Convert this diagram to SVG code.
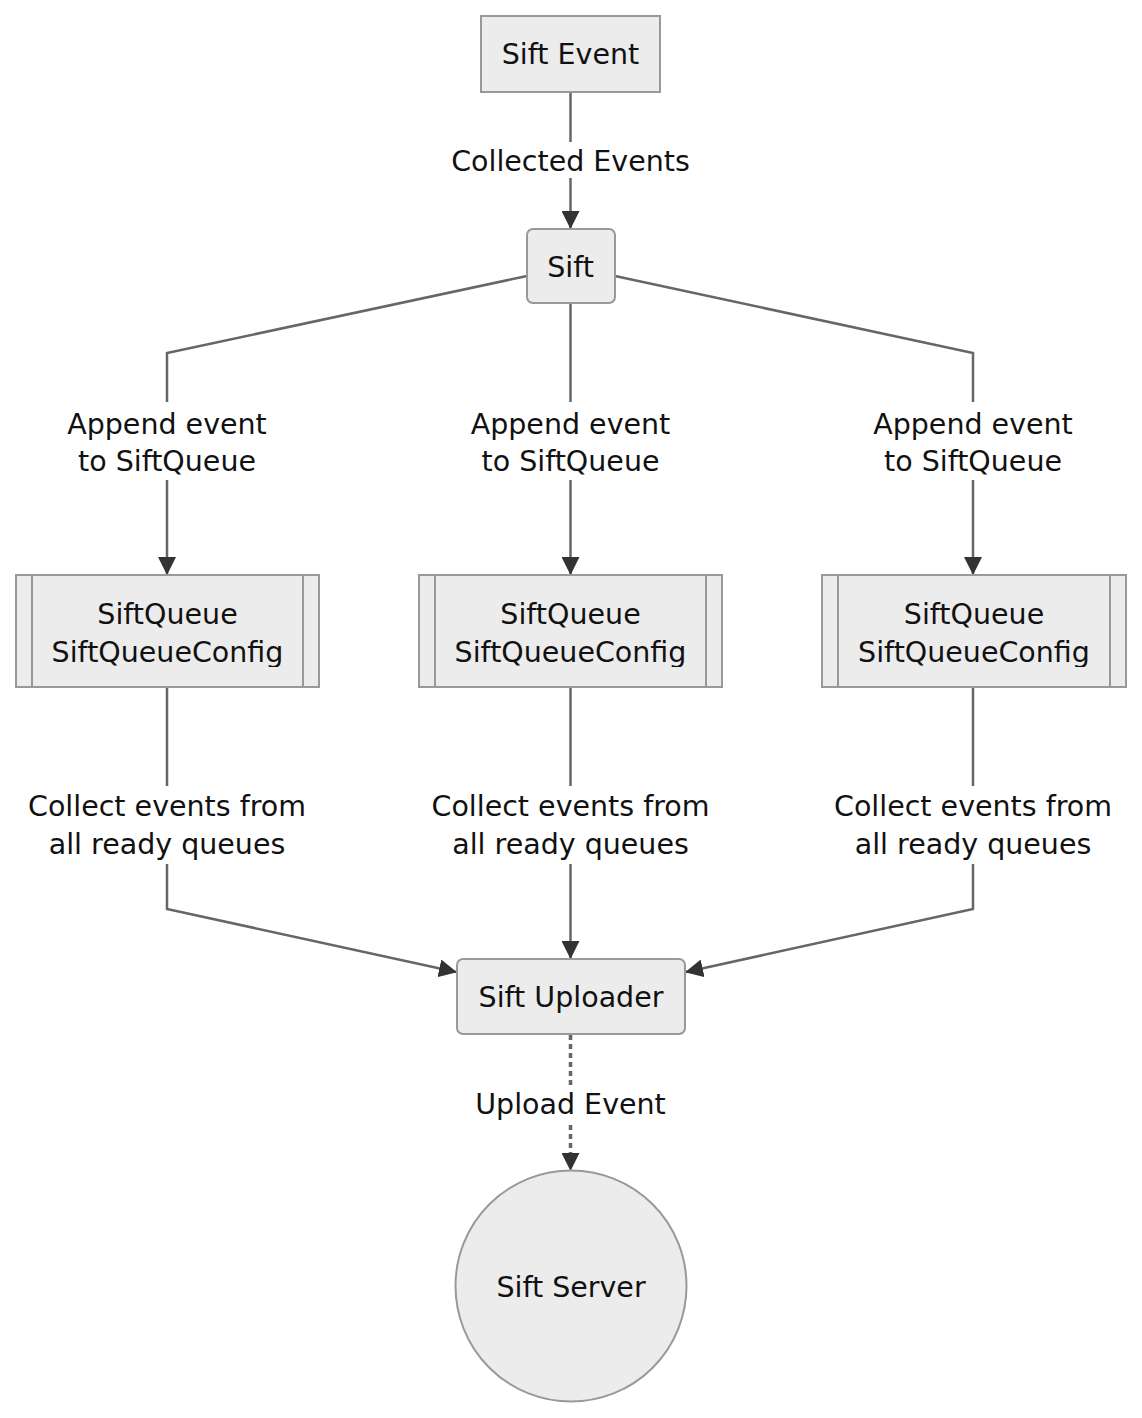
<svg xmlns="http://www.w3.org/2000/svg" width="1142" height="1418" viewBox="0 0 1142 1418">
<style>
.node{fill:#ECECEC;stroke:#999999;stroke-width:2}
.edge{fill:none;stroke:#666666;stroke-width:2.5}
.dot{fill:none;stroke:#666666;stroke-width:3.5;stroke-dasharray:5 4}
.t{font-family:"DejaVu Sans",Verdana,sans-serif;font-size:28.5px;fill:#111111;text-anchor:middle}
.bg{fill:#FFFFFF}
</style>
<defs>
<marker id="arr" markerUnits="userSpaceOnUse" markerWidth="18" markerHeight="18" viewBox="0 0 18 18" refX="17" refY="9" orient="auto">
<path d="M0,0 L18,9 L0,18 Z" fill="#333333"/>
</marker>
<clipPath id="qc"><rect x="0" y="575" width="1142" height="92"/></clipPath>
</defs>
<rect width="1142" height="1418" fill="#FFFFFF"/>
<g id="connectors">
<path class="edge" d="M570.5,92 L570.5,228" marker-end="url(#arr)"/>
<path class="edge" d="M527,276 L167,353 L167,574" marker-end="url(#arr)"/>
<path class="edge" d="M570.5,303 L570.5,574" marker-end="url(#arr)"/>
<path class="edge" d="M615,276 L973,353 L973,574" marker-end="url(#arr)"/>
<path class="edge" d="M167,687 L167,909 L456,972" marker-end="url(#arr)"/>
<path class="edge" d="M570.5,687 L570.5,958" marker-end="url(#arr)"/>
<path class="edge" d="M973,687 L973,909 L686,972" marker-end="url(#arr)"/>
<path class="dot" d="M570.5,1035 L570.5,1170" marker-end="url(#arr)"/>
<g id="edge-labels">
<rect class="bg" x="448" y="142" width="246" height="36"/>
<text class="t" x="570.5" y="171">Collected Events</text>
<rect class="bg" x="65" y="402" width="204" height="78"/>
<text class="t" x="167" y="434">Append event</text>
<text class="t" x="167" y="471">to SiftQueue</text>
<rect class="bg" x="468" y="402" width="204" height="78"/>
<text class="t" x="570.5" y="434">Append event</text>
<text class="t" x="570.5" y="471">to SiftQueue</text>
<rect class="bg" x="871" y="402" width="204" height="78"/>
<text class="t" x="973" y="434">Append event</text>
<text class="t" x="973" y="471">to SiftQueue</text>
<rect class="bg" x="24" y="786" width="288" height="78"/>
<text class="t" x="167" y="816">Collect events from</text>
<text class="t" x="167" y="854">all ready queues</text>
<rect class="bg" x="427" y="786" width="288" height="78"/>
<text class="t" x="570.5" y="816">Collect events from</text>
<text class="t" x="570.5" y="854">all ready queues</text>
<rect class="bg" x="830" y="786" width="288" height="78"/>
<text class="t" x="973" y="816">Collect events from</text>
<text class="t" x="973" y="854">all ready queues</text>
<rect class="bg" x="472" y="1085" width="198" height="36"/>
<text class="t" x="570.5" y="1114">Upload Event</text>
</g>
</g>
<g id="sift-event">
<rect class="node" x="481" y="16" width="179" height="76"/>
<text class="t" x="570.5" y="64">Sift Event</text>
</g>
<g id="sift">
<rect class="node" x="527" y="229" width="88" height="74" rx="6"/>
<text class="t" x="570.5" y="277">Sift</text>
</g>
<g id="queue-1">
<rect class="node" x="16" y="575" width="303" height="112"/>
<line class="node" x1="32" y1="575" x2="32" y2="687"/>
<line class="node" x1="303" y1="575" x2="303" y2="687"/>
<text class="t" x="167.5" y="624">SiftQueue</text>
<text class="t" x="167.5" y="662" clip-path="url(#qc)">SiftQueueConfig</text>
</g>
<g id="queue-2">
<rect class="node" x="419" y="575" width="303" height="112"/>
<line class="node" x1="435" y1="575" x2="435" y2="687"/>
<line class="node" x1="706" y1="575" x2="706" y2="687"/>
<text class="t" x="570.5" y="624">SiftQueue</text>
<text class="t" x="570.5" y="662" clip-path="url(#qc)">SiftQueueConfig</text>
</g>
<g id="queue-3">
<rect class="node" x="822" y="575" width="304" height="112"/>
<line class="node" x1="838" y1="575" x2="838" y2="687"/>
<line class="node" x1="1110" y1="575" x2="1110" y2="687"/>
<text class="t" x="974" y="624">SiftQueue</text>
<text class="t" x="974" y="662" clip-path="url(#qc)">SiftQueueConfig</text>
</g>
<g id="sift-uploader">
<rect class="node" x="457" y="959" width="228" height="75" rx="6"/>
<text class="t" x="571" y="1007">Sift Uploader</text>
</g>
<g id="sift-server">
<circle class="node" cx="571" cy="1286" r="115.5"/>
<text class="t" x="571" y="1297">Sift Server</text>
</g>
</svg>
